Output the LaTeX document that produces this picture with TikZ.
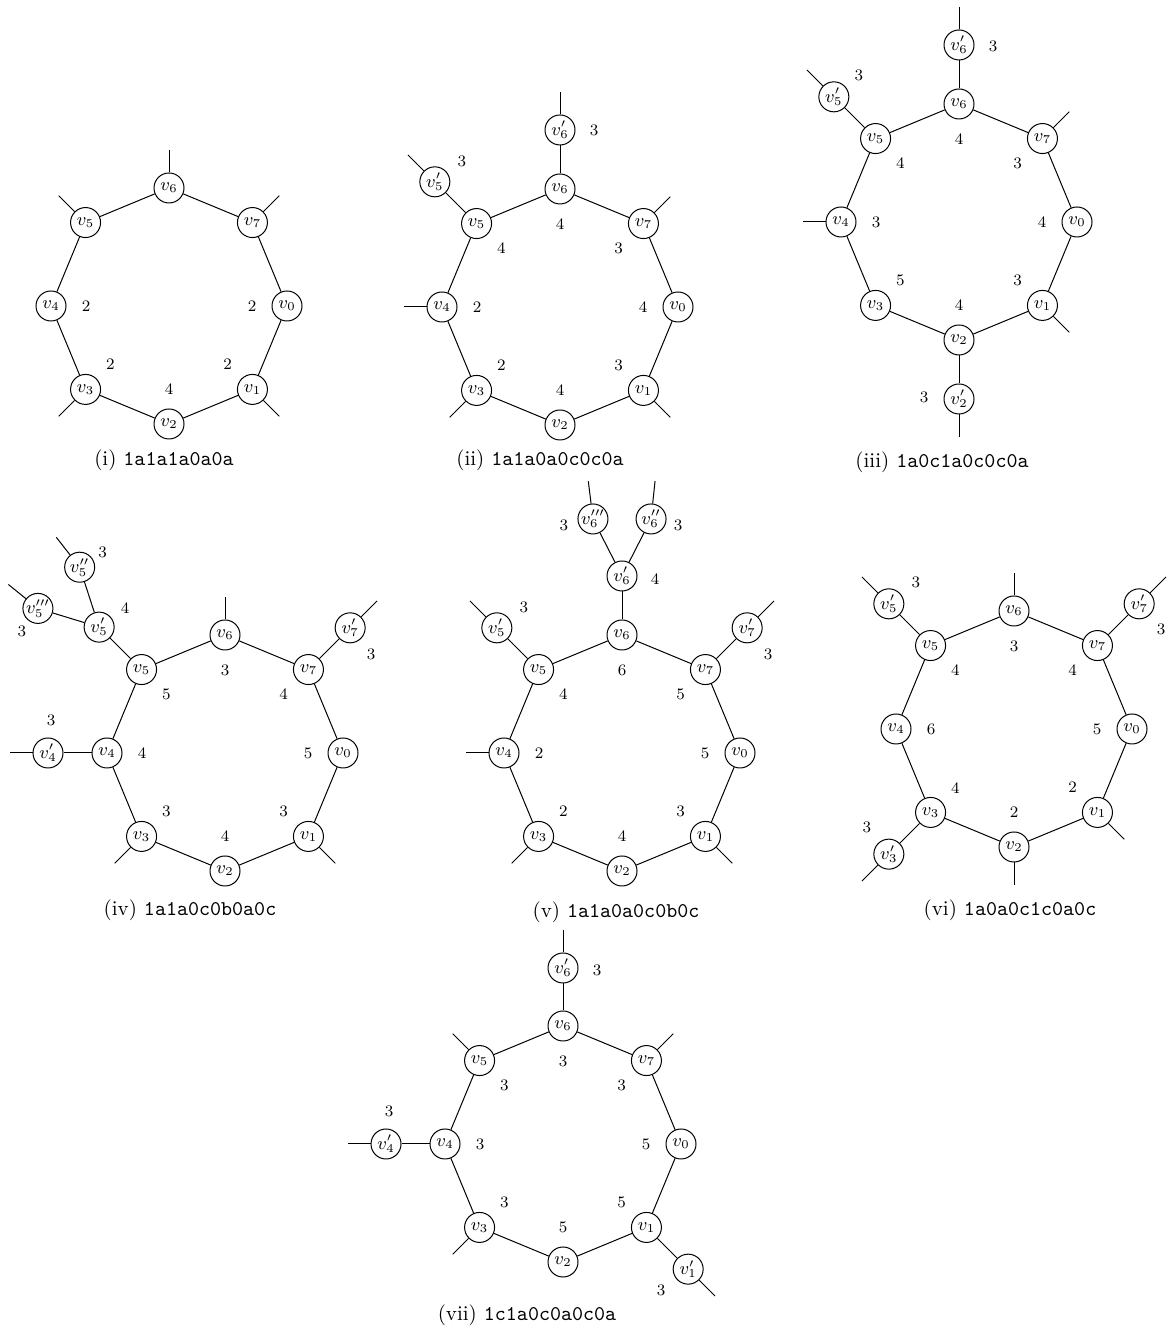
\documentclass[tikz,border=0pt]{standalone}
\usetikzlibrary{calc}
\tikzset{
 vtx/.style={circle,draw,line width=0.5pt,minimum size=15pt,inner sep=0pt,font=\fontsize{9}{10}\selectfont},
 num/.style={inner sep=0pt,font=\fontsize{8}{9.6}\selectfont},
 captxt/.style={inner sep=0pt,font=\fontsize{10.5}{12.6}\selectfont},
 edge/.style={line width=0.5pt},
}
\newcommand\oct[1]{%
 \foreach \k in {0,...,7}{\node[vtx] (#1v\k) at ({-45*\k}:118) {$v_{\k}$};}
 \draw[edge] (#1v0)--(#1v1)--(#1v2)--(#1v3)--(#1v4)--(#1v5)--(#1v6)--(#1v7)--(#1v0);}
\newcommand\pv[2]{\coordinate (#1v#2e) at ({-45*#2}:156); \draw[edge] (#1v#2) -- (#1v#2e);}
\newcommand\inl[3]{\node[num] (#1i#2) at ({-45*#2}:83) {#3};}
\newcommand\kid[5]{\node[vtx] (#1) at ($(#2)+(#3:#4)$) {#5}; \draw[edge] (#2) -- (#1);}
\newcommand\pn[2]{\coordinate (#1e) at ($(#1)+(#2:38)$); \draw[edge] (#1) -- (#1e);}
\newcommand\lb[4]{\node[num] (#1) at ($(#2)+(#3)$) {#4};}
\begin{document}
\begin{tikzpicture}[x=0.5pt,y=0.5pt]
\useasboundingbox (0,0) rectangle (1171,1336);
% (i)
\begin{scope}[shift={(169,1030)}]
 \oct{a}
 \pv{a}{6}\pv{a}{5}\pv{a}{7}\pv{a}{3}\pv{a}{1}
 \inl{a}{4}{2}\inl{a}{0}{2}\inl{a}{3}{2}\inl{a}{1}{2}\inl{a}{2}{4}
\end{scope}
\node[captxt] (capa) at (164,876) {(i) \texttt{1a1a1a0a0a}};
% (ii)
\begin{scope}[shift={(560,1029)}]
 \oct{b}
 \pv{b}{4}\pv{b}{7}\pv{b}{3}\pv{b}{1}
 \kid{b6p}{bv6}{90}{59}{$v'_6$}\pn{b6p}{90}\lb{b6pl}{b6p}{34,0}{3}
 \kid{b5p}{bv5}{135}{59}{$v'_5$}\pn{b5p}{135}\lb{b5pl}{b5p}{27,20}{3}
 \inl{b}{6}{4}\inl{b}{5}{4}\inl{b}{7}{3}\inl{b}{4}{2}\inl{b}{0}{4}\inl{b}{3}{2}\inl{b}{1}{3}\inl{b}{2}{4}
\end{scope}
\node[captxt] (capb) at (540,876) {(ii) \texttt{1a1a0a0c0c0a}};
% (iii)
\begin{scope}[shift={(959,1114)}]
 \oct{c}
 \pv{c}{4}\pv{c}{7}\pv{c}{1}
 \kid{c6p}{cv6}{90}{59}{$v'_6$}\pn{c6p}{90}\lb{c6pl}{c6p}{34,-1}{3}
 \kid{c5p}{cv5}{135}{59}{$v'_5$}\pn{c5p}{135}\lb{c5pl}{c5p}{25,21}{3}
 \kid{c2p}{cv2}{-90}{59}{$v'_2$}\pn{c2p}{-90}\lb{c2pl}{c2p}{-35,2}{3}
 \inl{c}{6}{4}\inl{c}{5}{4}\inl{c}{7}{3}\inl{c}{4}{3}\inl{c}{0}{4}\inl{c}{3}{5}\inl{c}{1}{3}\inl{c}{2}{4}
\end{scope}
\node[captxt] (capc) at (942,874) {(iii) \texttt{1a0c1a0c0c0a}};
% (iv)
\begin{scope}[shift={(225,583)}]
 \oct{d}
 \pv{d}{6}\pv{d}{3}\pv{d}{1}
 \kid{d7p}{dv7}{45}{59}{$v'_7$}\pn{d7p}{45}\lb{d7pl}{d7p}{21,-27}{3}
 \kid{d4p}{dv4}{180}{59}{$v'_4$}\pn{d4p}{180}\lb{d4pl}{d4p}{3,33}{3}
 \kid{d5p}{dv5}{135}{60}{$v'_5$}\lb{d5pl}{d5p}{26,19}{4}
 \kid{d5q}{d5p}{108}{63}{$v''_5$}\pn{d5q}{128}\lb{d5ql}{d5q}{23,15}{3}
 \kid{d5r}{d5p}{163}{64}{$v'''_5$}\pn{d5r}{141}\lb{d5rl}{d5r}{-16,-23}{3}
 \inl{d}{6}{3}\inl{d}{5}{5}\inl{d}{7}{4}\inl{d}{4}{4}\inl{d}{0}{5}\inl{d}{3}{3}\inl{d}{1}{3}\inl{d}{2}{4}
\end{scope}
\node[captxt] (capd) at (190,426) {(iv) \texttt{1a1a0c0b0a0c}};
% (v)
\begin{scope}[shift={(622,583)}]
 \oct{e}
 \pv{e}{4}\pv{e}{3}\pv{e}{1}
 \kid{e5p}{ev5}{135}{59}{$v'_5$}\pn{e5p}{135}\lb{e5pl}{e5p}{27,20}{3}
 \kid{e7p}{ev7}{45}{59}{$v'_7$}\pn{e7p}{45}\lb{e7pl}{e7p}{21,-27}{3}
 \kid{e6p}{ev6}{90}{59}{$v'_6$}\lb{e6pl}{e6p}{33,-3}{4}
 \kid{e6q}{e6p}{63}{64}{$v''_6$}\pn{e6q}{84}\lb{e6ql}{e6q}{27,-6}{3}
 \kid{e6r}{e6p}{117}{64}{$v'''_6$}\pn{e6r}{97}\lb{e6rl}{e6r}{-29,-6}{3}
 \inl{e}{6}{6}\inl{e}{5}{4}\inl{e}{7}{5}\inl{e}{4}{2}\inl{e}{0}{5}\inl{e}{3}{2}\inl{e}{1}{3}\inl{e}{2}{4}
\end{scope}
\node[captxt] (cape) at (616,424) {(v) \texttt{1a1a0a0c0b0c}};
% (vi)
\begin{scope}[shift={(1014,607)}]
 \oct{f}
 \pv{f}{6}\pv{f}{2}\pv{f}{1}
 \kid{f5p}{fv5}{135}{59}{$v'_5$}\pn{f5p}{135}\lb{f5pl}{f5p}{27,21}{3}
 \kid{f7p}{fv7}{45}{59}{$v'_7$}\pn{f7p}{45}\lb{f7pl}{f7p}{22,-26}{3}
 \kid{f3p}{fv3}{-135}{59}{$v'_3$}\pn{f3p}{-135}\lb{f3pl}{f3p}{-22,27}{3}
 \inl{f}{6}{3}\inl{f}{5}{4}\inl{f}{7}{4}\inl{f}{4}{6}\inl{f}{0}{5}\inl{f}{3}{4}\inl{f}{1}{2}\inl{f}{2}{2}
\end{scope}
\node[captxt] (capf) at (1010,426) {(vi) \texttt{1a0a0c1c0a0c}};
% (vii)
\begin{scope}[shift={(563,192)}]
 \oct{g}
 \pv{g}{5}\pv{g}{7}\pv{g}{3}
 \kid{g6p}{gv6}{90}{58}{$v'_6$}\pn{g6p}{90}\lb{g6pl}{g6p}{34,-2}{3}
 \kid{g4p}{gv4}{180}{59}{$v'_4$}\pn{g4p}{180}\lb{g4pl}{g4p}{3,33}{3}
 \kid{g1p}{gv1}{-45}{59}{$v'_1$}\pn{g1p}{-45}\lb{g1pl}{g1p}{-27,-21}{3}
 \inl{g}{6}{3}\inl{g}{5}{3}\inl{g}{7}{3}\inl{g}{4}{3}\inl{g}{0}{5}\inl{g}{3}{3}\inl{g}{1}{5}\inl{g}{2}{5}
\end{scope}
\node[captxt] (capg) at (527,21) {(vii) \texttt{1c1a0c0a0c0a}};
\end{tikzpicture}
\end{document}
